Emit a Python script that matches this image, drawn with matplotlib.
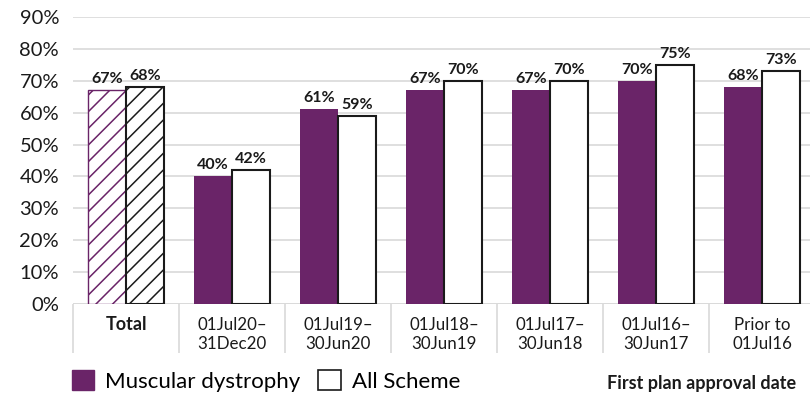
import numpy as np
import matplotlib.pyplot as plt
from matplotlib.patches import Patch

plt.rcParams['font.family'] = ['Lato', 'DejaVu Sans']
plt.rcParams['hatch.linewidth'] = 1.1

categories = ['Total', '01Jul20–\n31Dec20', '01Jul19–\n30Jun20', '01Jul18–\n30Jun19',
              '01Jul17–\n30Jun18', '01Jul16–\n30Jun17', 'Prior to\n01Jul16']
muscular = [67, 40, 61, 67, 67, 70, 68]
all_scheme = [68, 42, 59, 70, 70, 75, 73]
yticks = [0, 10, 20, 30, 40, 50, 60, 70, 80, 90]

purple = '#6a2468'
grid_c = '#d9d9d9'
W, H = 810, 396

fig = plt.figure(figsize=(8.1, 3.96), dpi=100)
ax = fig.add_axes([73 / W, 1 - 304 / H, 742 / W, 287 / H])

x = np.arange(len(categories))
bw = 0.355
b1 = ax.bar(x - bw / 2, muscular, bw, color=purple, edgecolor=purple, linewidth=0, zorder=3)
b2 = ax.bar(x + bw / 2, all_scheme, bw, color='white', edgecolor='#1a1a1a', linewidth=1.5, zorder=3)

# total pair is hatched
b1[0].set_facecolor('white')
b1[0].set_edgecolor(purple)
b1[0].set_linewidth(1)
b1[0].set_hatch('//')
b2[0].set_hatch('//')

for bars, vals in [(b1, muscular), (b2, all_scheme)]:
    ax.bar_label(bars, labels=[f'{v}%' for v in vals], padding=3,
                 fontsize=11.5, fontweight='bold', color='#1a1a1a')

ax.set_ylim(0, 90)
ax.set_xlim(-0.5, len(categories) - 0.5)
ax.set_yticks(yticks)
ax.set_yticklabels([f'{t}%' for t in yticks], fontsize=14.5, color='#1a1a1a')
ax.tick_params(axis='y', length=0, pad=10)
ax.grid(axis='y', color=grid_c, linewidth=1.2, zorder=0)
for s in ax.spines.values():
    s.set_visible(False)

ax.set_xticks(x)
ax.set_xticklabels(categories, fontsize=12.2, color='#1a1a1a', linespacing=1.3)
ax.get_xticklabels()[0].set_fontweight('bold')
ax.get_xticklabels()[0].set_fontsize(13)
ax.tick_params(axis='x', length=0, pad=9)

# separators under the axis
trans = ax.get_xaxis_transform()
ax.vlines(np.arange(len(categories) + 1) - 0.5, -49 / 287, 0, transform=trans,
          color=grid_c, linewidth=1.2, clip_on=False)
ax.axhline(0, color=grid_c, linewidth=1.2, zorder=1)

fig.legend(handles=[Patch(facecolor=purple, edgecolor=purple),
                    Patch(facecolor='white', edgecolor='#1a1a1a', linewidth=1.2)],
           labels=['Muscular dystrophy', 'All Scheme'], loc='center left',
           bbox_to_anchor=(72 / W, 1 - 381 / H), ncol=2, frameon=False,
           fontsize=16, handlelength=1.0, handleheight=1.0, handletextpad=0.5,
           columnspacing=0.8, borderpad=0, borderaxespad=0)

fig.text(796 / W, 1 - 383 / H, 'First plan approval date', ha='right', va='center',
         fontsize=13, fontweight='bold', color='#1a1a1a')

fig.savefig('out.png', dpi=100)
